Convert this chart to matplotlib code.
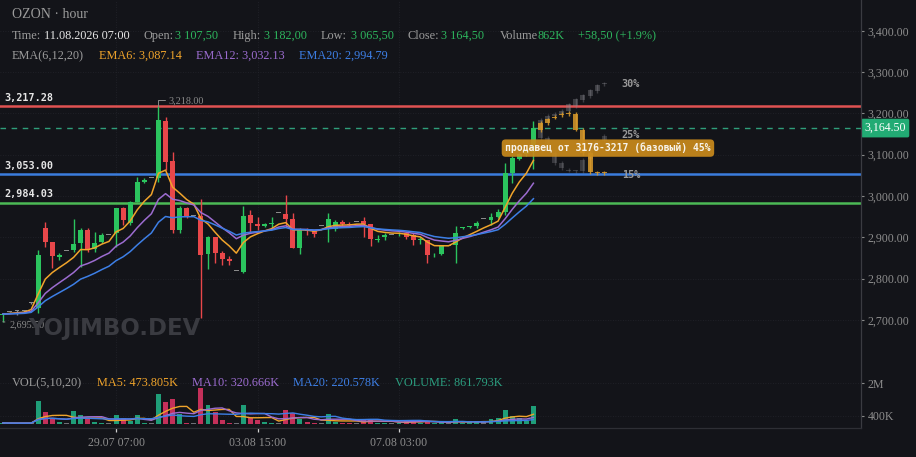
import matplotlib
matplotlib.use('Agg')
import matplotlib.pyplot as plt
import matplotlib.transforms as mtransforms
from matplotlib.lines import Line2D
import numpy as np
import pandas as pd

W, H = 916, 457
BG = '#131419'
GREEN = '#2bc45e'
RED = '#e8474a'
GRAY = '#8a8a8a'
VGREEN = '#1f9e78'
VRED = '#c4305a'
C_EMA6 = '#f0a42b'
C_EMA12 = '#9c6cd0'
C_EMA20 = '#3d7fe6'
SERIF = 'Liberation Serif'
MONO = 'DejaVu Sans Mono'

# ---------------- data ----------------
opens = [2712, 2720, 2721, 2722, 2741, 2729, 2923, 2889, 2853, 2867,
         2869, 2886, 2918, 2872, 2889, 2906, 2910, 2971, 2935, 2985,
         3034, 3044, 3044, 3182, 3085, 2918, 2971, 2952, 2952, 2860,
         2901, 2862, 2847, 2818, 2816, 2954, 2932, 2928, 2932, 2959,
         2957, 2945, 2874, 2920, 2915, 2927, 2925, 2920, 2937, 2933,
         2937, 2940, 2932, 2894, 2901, 2906, 2907, 2911, 2906, 2893,
         2894, 2856, 2860, 2879, 2881, 2922, 2924, 2927, 2944, 2942,
         2949, 2961, 3056, 3090, 3102, 3107.5]
highs = [2716, 2722, 2723, 2724, 2743, 2869, 2937, 2889, 2862, 2867,
         2944, 2923, 2923, 2913, 2911, 2906, 2971, 2973, 2988, 3046,
         3044, 3044, 3218, 3191, 3106, 2975, 2973, 2952, 2993, 2903,
         2901, 2867, 2855, 2818, 2976, 2966, 2950, 2935, 2949, 2959,
         3002, 2959, 2923, 2923, 2918, 2927, 2959, 2942, 2942, 2936,
         2937, 2949, 2932, 2906, 2911, 2906, 2912, 2913, 2911, 2901,
         2894, 2862, 2880, 2879, 2927, 2925, 2928, 2940, 2944, 2959,
         2969, 3080, 3097, 3104, 3115, 3182]
lows = [2695.5, 2718, 2712, 2720, 2739, 2717, 2877, 2826, 2845, 2867,
        2864, 2828, 2864, 2864, 2886, 2906, 2877, 2930, 2930, 2985,
        3031, 3044, 3034, 3063, 2910, 2910, 2947, 2952, 2705, 2823,
        2838, 2833, 2833, 2818, 2814, 2910, 2918, 2925, 2923, 2959,
        2925, 2874, 2860, 2906, 2901, 2927, 2889, 2915, 2928, 2928,
        2937, 2901, 2879, 2889, 2894, 2906, 2902, 2896, 2881, 2884,
        2838, 2852, 2858, 2879, 2838, 2920, 2922, 2923, 2944, 2930,
        2947, 2955, 3031, 3087, 3098, 3065.5]
closes = [2714, 2720, 2721, 2722, 2741, 2857, 2889, 2855, 2857, 2867,
          2884, 2918, 2869, 2886, 2906, 2906, 2971, 2942, 2985, 3034,
          3039, 3044, 3184, 3082, 2918, 2971, 2952, 2952, 2857, 2901,
          2862, 2847, 2843, 2818, 2952, 2935, 2928, 2932, 2935, 2959,
          2945, 2874, 2918, 2916, 2908, 2927, 2944, 2937, 2932, 2930,
          2937, 2932, 2896, 2896, 2906, 2906, 2909, 2901, 2894, 2895,
          2857, 2858, 2879, 2879, 2911, 2924, 2926, 2935, 2944, 2949,
          2961, 3056, 3092, 3102, 3108, 3164.5]
volumes_m = [0.05, 0.04, 0.04, 0.04, 0.05, 1.11, 0.57, 0.31, 0.08, 0.04,
             0.65, 0.43, 0.23, 0.09, 0.06, 0.04, 0.43, 0.31, 0.15, 0.43,
             0.06, 0.05, 1.46, 1.07, 1.21, 0.49, 0.06, 0.04, 1.77, 0.94,
             0.60, 0.20, 0.06, 0.04, 0.91, 0.31, 0.20, 0.10, 0.06, 0.04,
             0.70, 0.53, 0.23, 0.09, 0.06, 0.04, 0.49, 0.10, 0.06, 0.05,
             0.04, 0.26, 0.26, 0.05, 0.06, 0.04, 0.05, 0.18, 0.18, 0.06,
             0.15, 0.06, 0.08, 0.04, 0.25, 0.06, 0.08, 0.10, 0.10, 0.26,
             0.30, 0.67, 0.40, 0.27, 0.17, 0.862]

tick_idx = [16, 36, 56]
tick_labels = ['29.07 07:00', '03.08 15:00', '07.08 03:00']
price_ticks = [2700, 2800, 2900, 3000, 3100, 3200, 3300, 3400]
vol_ticks = [0.4, 2.0]
vol_tick_labels = ['400K', '2M']

levels = [3217.28, 3053.00, 2984.03]
level_labels = ['3,217.28', '3,053.00', '2,984.03']
level_colors = ['#e05252', '#3b7ddd', '#4cba55']
last_price = 3164.50
high_mark = (22, 3218.00)
low_mark = (0, 2695.50)

# projection scenarios
proj_idx = [76, 77, 78, 79, 80, 81, 82, 83, 84, 85]
projA_open = [3165, 3184, 3194, 3199, 3206, 3218, 3232, 3242, 3254, 3270]
projA_close = [3184, 3194, 3199, 3206, 3222, 3234, 3244, 3256, 3268, 3273]
projA_high = [3190, 3198, 3203, 3210, 3226, 3238, 3248, 3260, 3272, 3277]
projA_low = [3160, 3180, 3190, 3195, 3202, 3214, 3228, 3238, 3250, 3266]
projB_open = [3165, 3140, 3104, 3080, 3064, 3061, 3060, 3090, 3112, 3134]
projB_close = [3140, 3122, 3080, 3068, 3061, 3060, 3088, 3112, 3132, 3145]
projB_high = [3170, 3145, 3108, 3084, 3068, 3064, 3092, 3116, 3136, 3150]
projB_low = [3135, 3116, 3076, 3064, 3057, 3056, 3056, 3086, 3108, 3130]
projC_open = [3160, 3176, 3189, 3196, 3198, 3199, 3161, 3104, 3056, 3055]
projC_close = [3177, 3186, 3192, 3198, 3200, 3161, 3104, 3058, 3057, 3056]
projC_high = [3181, 3190, 3196, 3203, 3206, 3204, 3165, 3108, 3061, 3060]
projC_low = [3156, 3172, 3186, 3192, 3194, 3158, 3100, 3054, 3052, 3051]
proj_pct_labels = ['30%', '25%', '15%']
proj_pct_prices = [3270, 3148, 3052]
proj_label_x = 87.5
zone_text = 'продавец от 3176-3217 (базовый) 45%'

# ---------------- figure ----------------
fig = plt.figure(figsize=(W / 100, H / 100), dpi=100, facecolor=BG)


def fy(y):
    return 1 - y / H


ax = fig.add_axes([0, fy(370), 861 / W, 370 / H])
axv = fig.add_axes([0, fy(428), 861 / W, 56 / H])
for a in (ax, axv):
    a.set_facecolor(BG)
    for s in a.spines.values():
        s.set_visible(False)
    a.set_xlim(-0.4, 121.3)

ax.set_ylim(2578.7, 3474.6)
axv.set_ylim(-0.195, 2.537)

x = np.arange(len(closes))
o = np.array(opens, float)
c = np.array(closes, float)
hi = np.array(highs, float)
lo = np.array(lows, float)
v = np.array(volumes_m, float)

cols = np.where(c > o, GREEN, np.where(c < o, RED, GRAY))
vcols = np.where(c > o, VGREEN, np.where(c < o, VRED, '#6f7077'))

# grid
for p in price_ticks:
    ax.axhline(p, color='#24252c', lw=0.6, ls=(0, (1, 2)), zorder=0)
for t in tick_idx:
    ax.axvline(t, color='#24252c', lw=0.6, ls=(0, (1, 2)), zorder=0)
    axv.axvline(t, color='#24252c', lw=0.6, ls=(0, (1, 2)), zorder=0)
for p in vol_ticks:
    axv.axhline(p, color='#24252c', lw=0.6, ls=(0, (1, 2)), zorder=0)

# levels
for lv, lbl, lc in zip(levels, level_labels, level_colors):
    ax.axhline(lv, color=lc, lw=1.8, zorder=2)
    ax.annotate(lbl, xy=(4 / 861, lv), xycoords=('axes fraction', 'data'),
                xytext=(0, 6.2), textcoords='offset points', va='center',
                ha='left', color='#e6e6e6', fontsize=7.3, fontweight='bold',
                family=MONO, zorder=6)
ax.axhline(last_price, color='#2f9e7a', lw=1.0, ls=(0, (4, 4)), zorder=2)

# candles
body_h = np.maximum(np.abs(c - o), 2.2)
ax.vlines(x, lo, hi, colors=cols, lw=1.0, zorder=3)
ax.bar(x, body_h, bottom=np.minimum(o, c), width=0.7, color=cols, zorder=4)

# EMAs
cs = pd.Series(c)
for span, col in ((6, C_EMA6), (12, C_EMA12), (20, C_EMA20)):
    ax.plot(x, cs.ewm(span=span, adjust=False).mean(), color=col, lw=1.1, zorder=5)

# projections
def ghost(op, cl, hh, ll, color, alpha):
    op = np.array(op, float)
    cl = np.array(cl, float)
    ax.vlines(proj_idx, ll, hh, colors=color, lw=1.0, alpha=alpha, zorder=3)
    ax.bar(proj_idx, np.maximum(np.abs(cl - op), 2.2), bottom=np.minimum(op, cl),
           width=0.7, color=color, alpha=alpha, zorder=3)

ghost(projA_open, projA_close, projA_high, projA_low, '#8e8e94', 0.35)
ghost(projB_open, projB_close, projB_high, projB_low, '#8e8e94', 0.30)
ghost(projC_open, projC_close, projC_high, projC_low, '#d99a2b', 0.85)
for lbl, pp in zip(proj_pct_labels, proj_pct_prices):
    ax.text(proj_label_x, pp, lbl, color='#9a9a9a', fontsize=7.3,
            fontweight='bold', family=MONO, va='center', ha='left', zorder=6)

ax.text(71.0, 3116, zone_text, color='#f7f3ea', fontsize=7.0, fontweight='bold',
        family=MONO, va='center', ha='left', zorder=8,
        bbox=dict(boxstyle='round,pad=0.35,rounding_size=0.4', fc='#c98a1c',
                  ec='none', alpha=0.92))

# high/low marks
ax.annotate('3,218.00', xy=high_mark, xytext=(7.5, 4.0), textcoords='offset points',
            color=GRAY, fontsize=7.3, family=SERIF, va='center', ha='left',
            arrowprops=dict(arrowstyle='-', color=GRAY, lw=0.7,
                            connectionstyle='angle,angleA=0,angleB=90,rad=0',
                            shrinkA=1, shrinkB=0), zorder=6)
ax.annotate('2,695.50', xy=low_mark, xytext=(4.5, -2.0), textcoords='offset points',
            color=GRAY, fontsize=7.3, family=SERIF, va='center', ha='left',
            arrowprops=dict(arrowstyle='-', color=GRAY, lw=0.7, shrinkA=1, shrinkB=0),
            zorder=6)

# right price axis
ax.yaxis.tick_right()
ax.set_yticks(price_ticks)
ax.set_yticklabels([f'{p:,.2f}' for p in price_ticks], family=SERIF)
ax.tick_params(axis='y', colors=GRAY, labelcolor='#8c8c8c', length=2.2, width=0.8,
               pad=2.6, labelsize=8.6)
ax.set_xticks([])

blend = mtransforms.blended_transform_factory(ax.transAxes, ax.transData)
ax.text(1.004, last_price, f'{last_price:,.2f}', transform=blend, color='white',
        fontsize=8.6, family=SERIF, va='center', ha='left', clip_on=False, zorder=9,
        bbox=dict(boxstyle='round,pad=0.28,rounding_size=0.15', fc='#22ab74', ec='none'))

# volume
axv.bar(x, np.maximum(v, 0.03), width=0.7, color=vcols, zorder=3)
vs = pd.Series(v)
for win, col in ((5, C_EMA6), (10, C_EMA12), (20, C_EMA20)):
    axv.plot(x, vs.rolling(win, min_periods=1).mean(), color=col, lw=1.0, zorder=4)
axv.yaxis.tick_right()
axv.set_yticks(vol_ticks)
axv.set_yticklabels(vol_tick_labels, family=SERIF)
axv.tick_params(axis='y', colors=GRAY, labelcolor='#8c8c8c', length=2.2, width=0.8,
                pad=2.6, labelsize=8.6)
axv.set_xticks(tick_idx)
axv.set_xticklabels(tick_labels, family=SERIF)
axv.tick_params(axis='x', colors='#cfcfcf', labelcolor='#8c8c8c', length=3.0,
                width=0.9, pad=3.5, labelsize=8.6)

# frame lines
fig.add_artist(Line2D([861 / W, 861 / W], [fy(0), fy(428)], color='#3a3b41', lw=0.9))
fig.add_artist(Line2D([0, 861 / W], [fy(428), fy(428)], color='#2e2f35', lw=0.9))

# watermark
fig.text(28 / W, fy(329), 'YOJIMBO.DEV', color='#3a3b41', fontsize=16.5,
         fontweight='bold', family='DejaVu Sans', va='center', ha='left', zorder=1)

# header texts
def t(xp, yp, s, col, size=8.8):
    fig.text(xp / W, fy(yp), s, color=col, fontsize=size, family=SERIF,
             va='center', ha='left')

LBL = '#9c9c9c'
VAL = '#2db55d'
t(12, 15, 'OZON · hour', LBL, 10.0)
t(12, 36, 'Time:', LBL)
t(44, 36, '11.08.2026 07:00', '#e6e6e6')
t(143, 36, 'Open:', LBL)
t(175, 36, '3 107,50', VAL)
t(233, 36, 'High:', LBL)
t(264, 36, '3 182,00', VAL)
t(321, 36, 'Low:', LBL)
t(351, 36, '3 065,50', VAL)
t(408, 36, 'Close:', LBL)
t(441, 36, '3 164,50', VAL)
t(500, 36, 'Volume', LBL)
t(537, 36, '862K', VAL)
t(578, 36, '+58,50 (+1.9%)', VAL)
t(12, 56, 'EMA(6,12,20)', LBL)
t(99, 56, 'EMA6: 3,087.14', C_EMA6)
t(196, 56, 'EMA12: 3,032.13', C_EMA12)
t(299, 56, 'EMA20: 2,994.79', C_EMA20)
t(12, 383, 'VOL(5,10,20)', LBL)
t(97, 383, 'MA5: 473.805K', C_EMA6)
t(192, 383, 'MA10: 320.666K', C_EMA12)
t(293, 383, 'MA20: 220.578K', C_EMA20)
t(395, 383, 'VOLUME: 861.793K', '#2b9e7f')

fig.savefig('out.png', dpi=100, facecolor=BG)
